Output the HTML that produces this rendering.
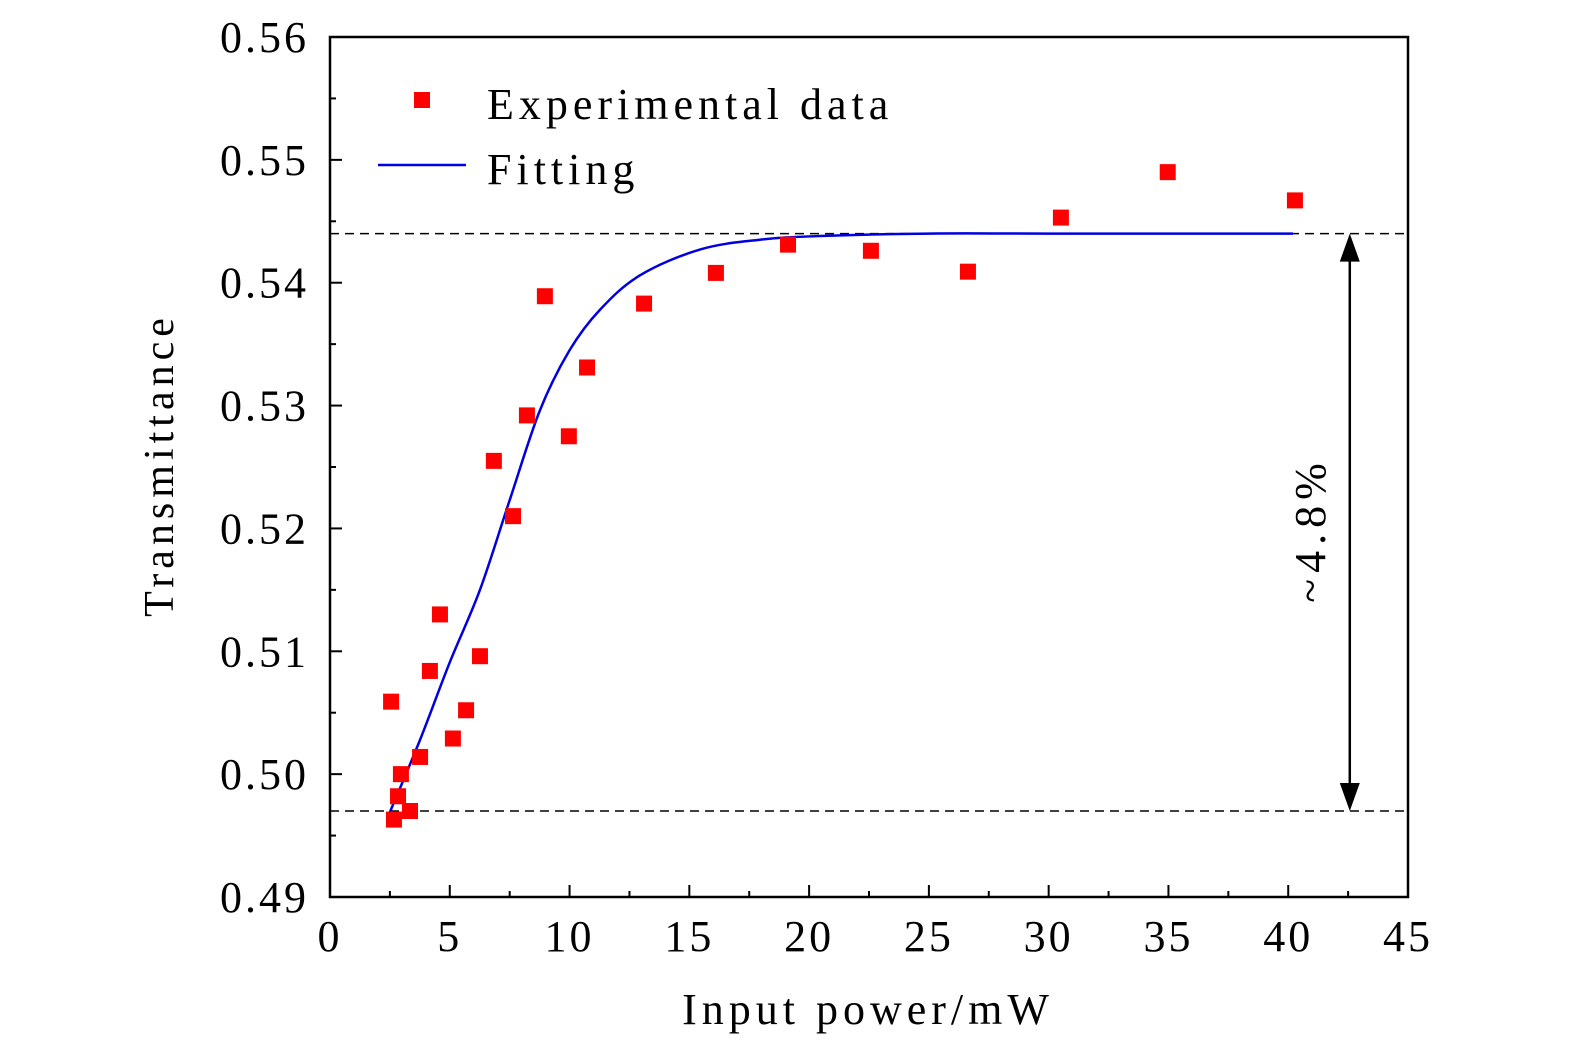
<!DOCTYPE html>
<html><head><meta charset="utf-8"><style>
body{margin:0;background:#fff;}
svg text{font-family:"Liberation Serif",serif;fill:#000;}
</style></head><body>
<svg id="chart" width="1575" height="1053" xmlns="http://www.w3.org/2000/svg">
<rect x="330" y="37" width="1078" height="860" fill="none" stroke="#000" stroke-width="2.5"/>
<g id="ticks"></g><g id="marks"></g>
<g>
<rect x="414" y="92" width="16" height="16" fill="#f00"/>
<text x="487" y="119" font-size="44" letter-spacing="5">Experimental data</text>
<line x1="378" y1="165" x2="466" y2="165" stroke="#0000e0" stroke-width="2.5"/>
<text x="487" y="184" font-size="44" letter-spacing="5">Fitting</text>
</g>
<text transform="translate(173,465) rotate(-90)" text-anchor="middle" font-size="42" letter-spacing="5">Transmittance</text>
<text x="868" y="1024" text-anchor="middle" font-size="44" letter-spacing="5">Input power/mW</text>
<text transform="translate(1325,530) rotate(-90)" text-anchor="middle" font-size="44" letter-spacing="6">~4.8%</text>
</svg>
<script>
const ptX=[2.55,2.67,2.84,2.96,3.34,3.76,4.17,4.59,5.13,5.68,6.26,6.84,7.64,8.22,8.97,9.97,10.73,13.11,16.11,19.12,22.58,26.63,30.51,34.97,40.28];
const ptY=[0.5059,0.4963,0.4982,0.5000,0.4970,0.5014,0.5084,0.5130,0.5029,0.5052,0.5096,0.5255,0.5210,0.5292,0.5389,0.5275,0.5331,0.5383,0.5408,0.5431,0.5426,0.5409,0.5453,0.5490,0.5467];
const fitX=[2.5,3.76,5.0,6.26,7.5,8.76,10.0,11.27,12.94,15.44,17.95,20.45,25,30,40.2];
const fitY=[0.4969,0.5028,0.5091,0.5150,0.5223,0.5296,0.5345,0.5378,0.5406,0.5427,0.5435,0.5438,0.5440,0.5440,0.5440];
const xTicks=[0,5,10,15,20,25,30,35,40,45];
const yTicks=[0.49,0.50,0.51,0.52,0.53,0.54,0.55,0.56];
const levelHigh=0.544, levelLow=0.497, arrowX=42.57;
const NS="http://www.w3.org/2000/svg";
const X=v=>330+(v-0)*1078/45, Y=v=>897-(v-0.49)*860/0.07;
function mk(t,a,p){const e=document.createElementNS(NS,t);for(const k in a)e.setAttribute(k,a[k]);(p||document.getElementById('marks')).appendChild(e);return e;}
const tg=document.getElementById('ticks');
xTicks.forEach((t,i)=>{
 let e=mk('line',{x1:X(t),x2:X(t),y1:897,y2:885,stroke:'#000','stroke-width':2},tg);
 
 
 if(i<xTicks.length-1){let m=mk('line',{x1:X(t+2.5),x2:X(t+2.5),y1:897,y2:891,stroke:'#000','stroke-width':2},tg);
 
 }
 let l=mk('text',{x:X(t),y:951,'text-anchor':'middle','font-size':44,'letter-spacing':3},tg);l.textContent=t;
 
 
});
yTicks.forEach((t,i)=>{
 let e=mk('line',{x1:330,x2:342,y1:Y(t),y2:Y(t),stroke:'#000','stroke-width':2},tg);
 
 
 if(i<yTicks.length-1){let m=mk('line',{x1:330,x2:336,y1:Y(t+0.005),y2:Y(t+0.005),stroke:'#000','stroke-width':2},tg);
 
 }
 let l=mk('text',{x:309,y:Y(t)+15,'text-anchor':'end','font-size':44,'letter-spacing':3},tg);l.textContent=t.toFixed(2);
 
 
});
[levelHigh,levelLow].forEach(v=>{
 let d=mk('line',{x1:330,x2:1408,y1:Y(v),y2:Y(v),stroke:'#000','stroke-width':1.5,'stroke-dasharray':'9,6'});
 
 
});
let ax=X(arrowX);
let al=mk('line',{x1:ax,x2:ax,y1:Y(levelHigh)+12,y2:Y(levelLow)-12,stroke:'#000','stroke-width':2.5});


let h1=mk('path',{d:`M${ax-10},${Y(levelHigh)+28}L${ax},${Y(levelHigh)}L${ax+10},${Y(levelHigh)+28}Z`,fill:'#000'});


let h2=mk('path',{d:`M${ax-10},${Y(levelLow)-28}L${ax},${Y(levelLow)}L${ax+10},${Y(levelLow)-28}Z`,fill:'#000'});


const P=fitX.map((x,i)=>[X(x),Y(fitY[i])]);
let d=`M${P[0][0]},${P[0][1]}`;
for(let i=0;i<P.length-1;i++){const p0=P[Math.max(0,i-1)],p1=P[i],p2=P[i+1],p3=P[Math.min(P.length-1,i+2)];
 d+=`C${p1[0]+(p2[0]-p0[0])/6},${p1[1]+(p2[1]-p0[1])/6} ${p2[0]-(p3[0]-p1[0])/6},${p2[1]-(p3[1]-p1[1])/6} ${p2[0]},${p2[1]}`;}
let c=mk('path',{d:d,fill:'none',stroke:'#0000e0','stroke-width':2.5});


ptX.forEach((x,i)=>{
 let r=mk('rect',{x:X(x)-8,y:Y(ptY[i])-8,width:16,height:16,fill:'#f00'});
 
 
});
</script>
</body></html>
